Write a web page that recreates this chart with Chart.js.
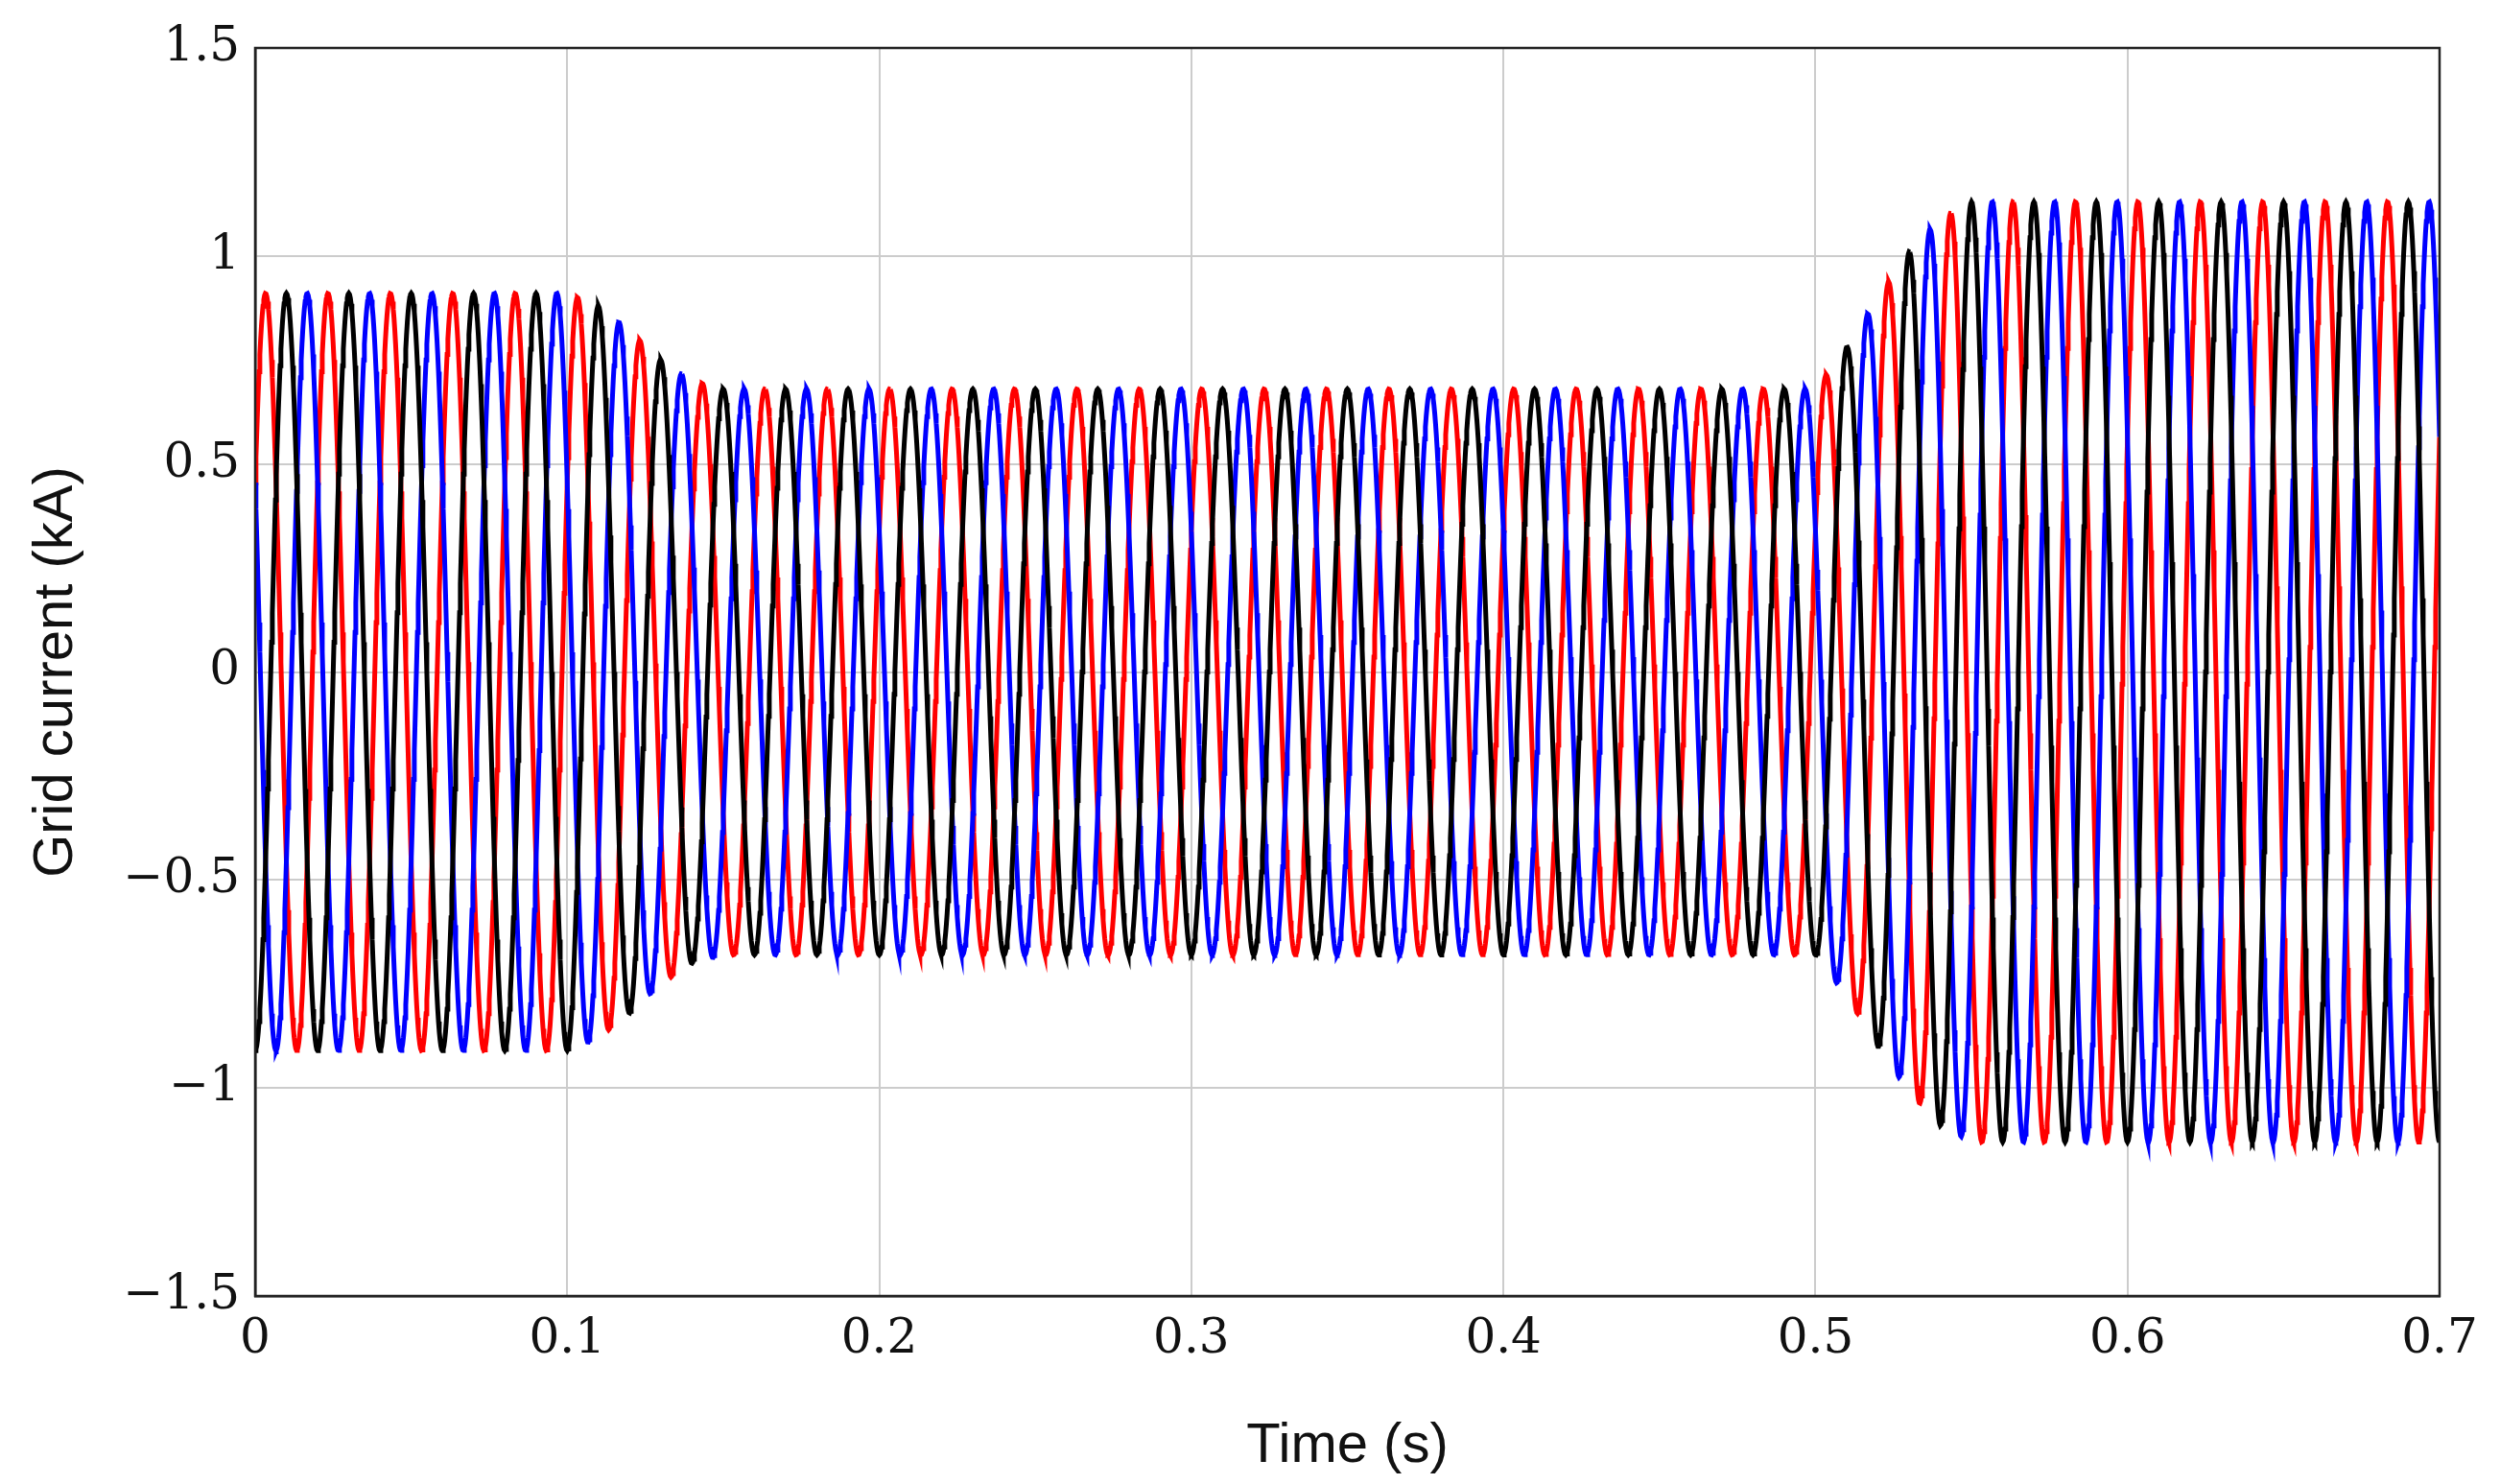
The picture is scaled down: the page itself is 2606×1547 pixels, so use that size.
<!DOCTYPE html>
<html>
<head>
<meta charset="utf-8">
<script src="https://cdn.jsdelivr.net/npm/chart.js@4"></script>
<style>
  html, body { margin: 0; padding: 0; background: #fff; }
  #wrap { width: 2606px; height: 1547px; }
</style>
</head>
<body>
<div id="wrap"><canvas id="c"></canvas></div>
<script>
  // envelope of the grid current (kA)
  const envTimes = [0, 0.1, 0.11, 0.12, 0.13, 0.14, 0.15, 0.5, 0.51, 0.52, 0.53, 0.54, 0.55, 0.7];
  const envAmp   = [0.91, 0.91, 0.88, 0.82, 0.75, 0.70, 0.68, 0.68, 0.78, 0.90, 1.01, 1.09, 1.13, 1.13];
  const phaseNames  = ["black", "blue", "red"];
  const phaseShift  = [0, -120, 120];          // degrees
  const phaseColors = ["#000000", "#0000ff", "#ff0000"];
  const xTicks = [0, 0.1, 0.2, 0.3, 0.4, 0.5, 0.6, 0.7];
  const yTicks = [-1.5, -1, -0.5, 0, 0.5, 1, 1.5];
  const FREQ = 50;

  function envelopeAt(t) {
    for (let i = 1; i < envTimes.length; i++) {
      if (t <= envTimes[i]) {
        const a = envTimes[i - 1], b = envTimes[i];
        const f = (t - a) / (b - a);
        return envAmp[i - 1] + (envAmp[i] - envAmp[i - 1]) * f;
      }
    }
    return envAmp[envAmp.length - 1];
  }

  const N = 2800;
  const datasets = phaseNames.map((name, k) => {
    const pts = [];
    for (let i = 0; i <= N; i++) {
      const t = 0.7 * i / N;
      const v = -envelopeAt(t) * Math.cos(2 * Math.PI * FREQ * t + phaseShift[k] * Math.PI / 180);
      pts.push({ x: t, y: v });
    }
    return { label: name, data: pts, borderColor: phaseColors[k], borderWidth: 5,
             pointRadius: 0, tension: 0, fill: false };
  });

  const fmtMinus = v => (v < 0 ? "\u2212" + String(-v) : String(v));

  new Chart(document.getElementById("c"), {
    type: "line",
    data: { datasets },
    options: {
      responsive: true,
      maintainAspectRatio: false,
      animation: false,
      layout: { padding: { top: 50, right: 63, left: 20, bottom: 0 } },
      plugins: { legend: { display: false }, tooltip: { enabled: false } },
      scales: {
        x: {
          type: "linear", min: 0, max: 0.7,
          afterBuildTicks: s => { s.ticks = xTicks.map(v => ({ value: v })); },
          afterFit: s => { s.height = 196; },
          grid: { color: "#cccccc", lineWidth: 2, drawTicks: false },
          border: { color: "#222", width: 2.5 },
          ticks: { color: "#111", padding: 16, font: { family: "DejaVu Serif", size: 50 },
                   callback: v => fmtMinus(Math.round(v * 10) / 10) },
          title: { display: true, text: "Time (s)", color: "#111", padding: { top: 0 },
                   font: { family: "Liberation Sans", size: 58 } }
        },
        y: {
          min: -1.5, max: 1.5,
          afterBuildTicks: s => { s.ticks = yTicks.map(v => ({ value: v })); },
          afterFit: s => { s.width = 246; },
          grid: { color: "#cccccc", lineWidth: 2, drawTicks: false },
          border: { color: "#222", width: 2.5 },
          ticks: { color: "#111", padding: 16, font: { family: "DejaVu Serif", size: 50 },
                   callback: v => fmtMinus(v) },
          title: { display: true, text: "Grid current (kA)", color: "#111", padding: { bottom: 0 },
                   font: { family: "Liberation Sans", size: 58 } }
        }
      }
    },
    plugins: [{
      id: "frame",
      afterDraw(chart) {
        const { ctx, chartArea: a } = chart;
        ctx.save();
        ctx.strokeStyle = "#222"; ctx.lineWidth = 2.5;
        ctx.strokeRect(a.left, a.top, a.right - a.left, a.bottom - a.top);
        ctx.restore();
      }
    }]
  });
</script>
</body>
</html>
